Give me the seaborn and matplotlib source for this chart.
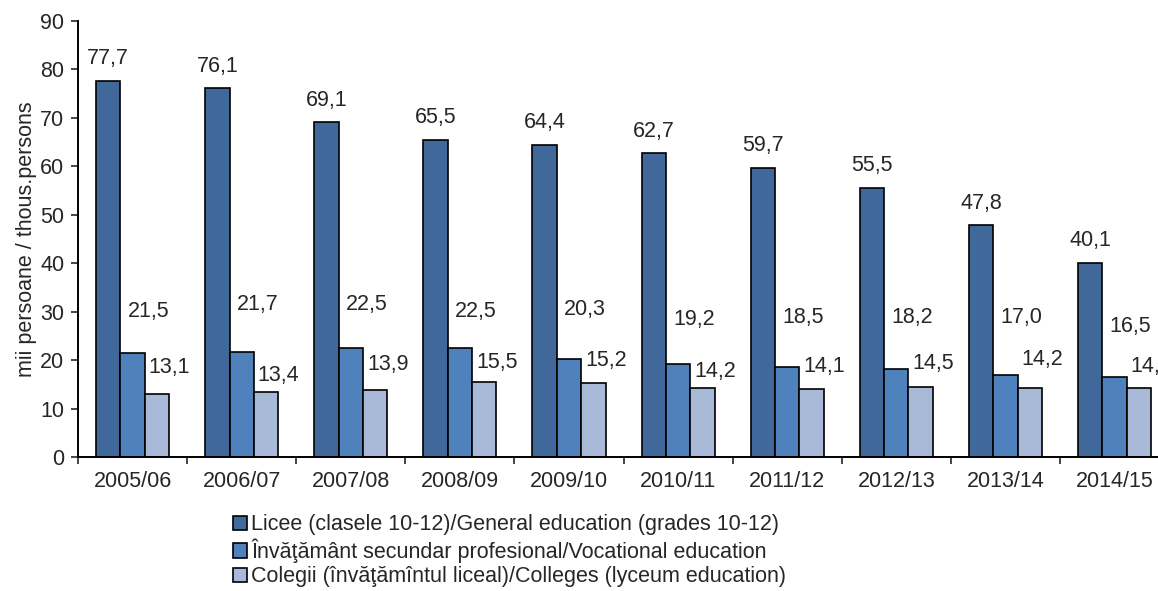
import pandas as pd
import seaborn as sns
import matplotlib.pyplot as plt
from matplotlib.patches import Patch

# Chart data
years = ['2005/06', '2006/07', '2007/08', '2008/09', '2009/10',
         '2010/11', '2011/12', '2012/13', '2013/14', '2014/15']
licee = [77.7, 76.1, 69.1, 65.5, 64.4, 62.7, 59.7, 55.5, 47.8, 40.1]
profesional = [21.5, 21.7, 22.5, 22.5, 20.3, 19.2, 18.5, 18.2, 17.0, 16.5]
colegii = [13.1, 13.4, 13.9, 15.5, 15.2, 14.2, 14.1, 14.5, 14.2, 14.3]
series_names = ['Licee (clasele 10-12)/General education (grades 10-12)',
                'Învăţământ secundar profesional/Vocational education',
                'Colegii (învăţămîntul liceal)/Colleges (lyceum education)']

# label heights (as placed in the original chart) for the two smaller series
prof_label_y = [30.0, 31.4, 31.4, 30.0, 30.4, 28.3, 28.9, 28.7, 28.7, 26.9]
coleg_label_y = [18.4, 16.9, 19.0, 19.6, 20.0, 17.6, 18.6, 19.4, 20.2, 18.7]

colors = ['#41689A', '#4F81BD', '#A9B9D8']

df = pd.DataFrame({
    'Year': years * 3,
    'Value': licee + profesional + colegii,
    'Type': [series_names[0]] * 10 + [series_names[1]] * 10 + [series_names[2]] * 10,
})

sns.set_style('white')
plt.rcParams['font.family'] = ['Liberation Sans', 'DejaVu Sans']
fs = 15.5

fig = plt.figure(figsize=(11.58, 5.91), dpi=100)
ax = fig.add_axes([0.0674, 0.2267, 0.9421, 0.7378])

sns.barplot(data=df, x='Year', y='Value', hue='Type', palette=colors, saturation=1,
            width=0.67, edgecolor='black', linewidth=1.2, ax=ax, legend=False)

ax.set_xlim(-0.5, len(years) - 0.5)
ax.set_ylim(0, 90)
ax.set_yticks(range(0, 91, 10))
ax.set_xlabel('')
ax.set_ylabel('mii persoane / thous.persons', fontsize=fs, labelpad=2)
ax.tick_params(axis='y', labelsize=fs, length=5, width=1.2, direction='out', left=True, pad=5)
ax.tick_params(axis='x', labelsize=fs, length=0, pad=10)
ax.set_xticks([i + 0.5 for i in range(-1, len(years))], minor=True)
ax.tick_params(axis='x', which='minor', length=5, width=1.2, direction='out', bottom=True)

for side in ['top', 'right']:
    ax.spines[side].set_visible(False)
for side in ['left', 'bottom']:
    ax.spines[side].set_color('black')
    ax.spines[side].set_linewidth(1.4)

# Data labels
fmt = lambda v: f'{v:.1f}'.replace('.', ',')
for bar, v in zip(ax.containers[0], licee):
    ax.annotate(fmt(v), (bar.get_x() + bar.get_width() / 2, v),
                xytext=(0, 16), textcoords='offset points',
                ha='center', va='center', fontsize=fs)
for bar, v, ly in zip(ax.containers[1], profesional, prof_label_y):
    ax.annotate(fmt(v), (bar.get_x() + bar.get_width() / 2, ly),
                xytext=(11.5, 0), textcoords='offset points',
                ha='center', va='center', fontsize=fs)
for bar, v, ly in zip(ax.containers[2], colegii, coleg_label_y):
    ax.annotate(fmt(v), (bar.get_x() + bar.get_width() / 2, ly),
                xytext=(9, 0), textcoords='offset points',
                ha='center', va='center', fontsize=fs, annotation_clip=False)

handles = [Patch(facecolor=c, edgecolor='black', linewidth=1.2) for c in colors]
fig.legend(handles, series_names, loc='upper left', bbox_to_anchor=(0.192, 0.148),
           frameon=False, fontsize=fs, handlelength=0.65, handleheight=0.65,
           handletextpad=0.2, labelspacing=0.15, borderpad=0)

fig.savefig('out.png', dpi=100)
